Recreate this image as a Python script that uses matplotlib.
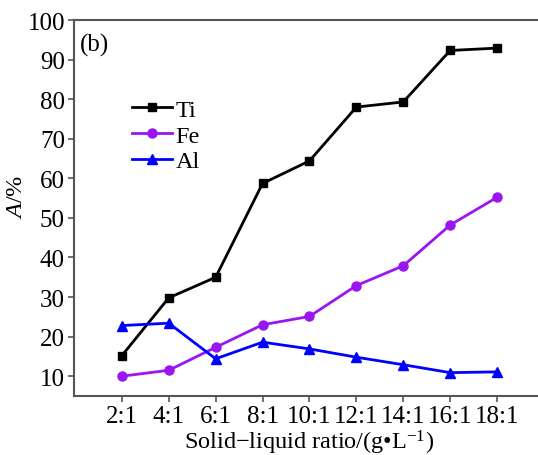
import matplotlib
matplotlib.use("Agg")
import matplotlib.pyplot as plt

categories = ["2:1", "4:1", "6:1", "8:1", "10:1", "12:1", "14:1", "16:1", "18:1"]
ti = [15.2, 29.8, 35.0, 58.7, 64.4, 78.0, 79.3, 92.3, 92.9]
fe = [10.0, 11.5, 17.3, 23.0, 25.1, 32.9, 37.9, 48.2, 55.2]
al = [22.8, 23.4, 14.4, 18.6, 16.9, 14.8, 12.9, 10.9, 11.1]
yticks = [10, 20, 30, 40, 50, 60, 70, 80, 90, 100]

plt.rcParams['font.family'] = ['Liberation Serif', 'DejaVu Serif']
plt.rcParams['mathtext.fontset'] = 'custom'
plt.rcParams['mathtext.rm'] = 'Liberation Serif'
plt.rcParams['mathtext.it'] = 'Liberation Serif:italic'

fig = plt.figure(figsize=(5.38, 4.56), dpi=100)
ax = fig.add_axes([74/538, 1 - 397/456, (544 - 74)/538, (397 - 21)/456])

x = list(range(len(categories)))
ax.plot(x, ti, color='black', marker='s', markersize=6, linewidth=2.0, label='Ti')
ax.plot(x, fe, color='#9B14F2', marker='o', markersize=6.5, linewidth=2.0, label='Fe')
ax.plot(x, al, color='#0000FF', marker='^', markersize=7, linewidth=2.0, label='Al')

ax.set_xlim(-1.02, 9.0)
ax.set_ylim(5, 100)
ax.set_xticks(x)
ax.set_xticklabels(categories)
ax.set_yticks(yticks)
ax.tick_params(axis='both', labelsize=18, direction='out', length=4.5, width=1.2, color='#555555', pad=2)
for s in ax.spines.values():
    s.set_color('#555555')
    s.set_linewidth(1.5)

ax.set_ylabel(r'$\mathit{A}$/%', fontsize=17.5)
ax.yaxis.set_label_coords(-0.10, 0.532)
ax.set_xlabel('Solid\u2212liquid ratio/(g\u2022L$^{\u22121}$)', fontsize=17.5, labelpad=0.5)
ax.text(0.012, 0.966, '(b)', transform=ax.transAxes, fontsize=18, va='top', ha='left')

leg = ax.legend(loc='upper left', bbox_to_anchor=(0.123, 0.79), frameon=False, fontsize=17.5,
                handlelength=1.65, handletextpad=0.15, labelspacing=0.15, borderpad=0,
                borderaxespad=0)

fig.savefig('out.png', dpi=100)
